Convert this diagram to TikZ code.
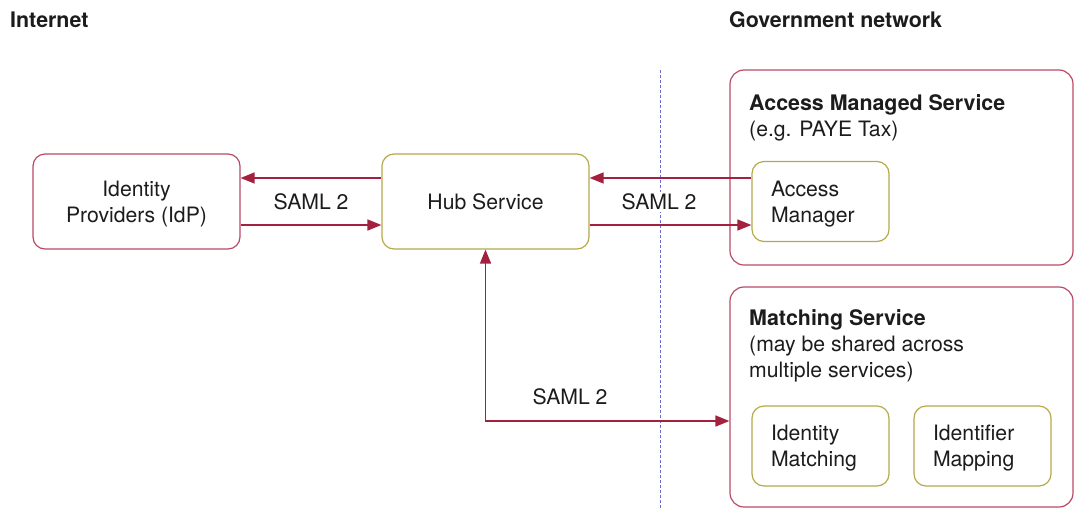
\documentclass[tikz,border=0pt]{standalone}
\usepackage{fontspec}
\setmainfont{TeX Gyre Heros}
\usetikzlibrary{arrows.meta}
\definecolor{crim}{HTML}{B84A66}
\definecolor{olive}{HTML}{B5A94A}
\definecolor{arrowred}{HTML}{A3213F}
\definecolor{ink}{HTML}{1C1C1C}
\definecolor{divider}{HTML}{6A6ACC}
\newcommand{\headfont}{\fontsize{21.4}{26}\selectfont\bfseries}
\tikzset{
  bodytext/.style={font=\fontsize{21.2}{26}\selectfont, text=ink},
  headtext/.style={font=\headfont, text=ink},
  mainbox/.style={draw, line width=1.2pt, rounded corners=12pt, fill=white,
    minimum width=207pt, minimum height=95pt, align=center, text depth=0pt,
    bodytext},
  subbox/.style={draw=olive, line width=1.2pt, rounded corners=12pt, fill=white,
    text width=99pt, inner xsep=19pt, minimum height=80pt, align=left,
    text depth=26pt, bodytext},
  groupbox/.style={draw=crim, line width=1.2pt, rounded corners=14pt,
    minimum width=343pt},
  flow/.style={draw=arrowred, line width=1.5pt,
    -{Triangle[length=14pt,width=11pt]}},
  biflow/.style={draw=arrowred, line width=1.5pt,
    {Triangle[length=14pt,width=11pt]}-{Triangle[length=14pt,width=11pt]}},
  tag/.style={bodytext, fill=white, inner sep=2pt},
}
\begin{document}
\begin{tikzpicture}[x=1pt,y=-1pt]
\useasboundingbox (0,0) rectangle (1078,509);

% zone headings
\node[headtext, anchor=base west, inner sep=0] (inet) at (10,27) {Internet};
\node[headtext, anchor=base west, inner sep=0] (gov) at (729,27) {Government network};

% boundary between the internet and the government network
\coordinate (bTop) at (660,70);
\coordinate (bBot) at (660,509);
\draw[divider, line width=0.9pt, dash pattern=on 3pt off 2pt] (bTop) -- (bBot);

% service groups on the government side
\node[groupbox, minimum height=195pt] (ams) at (901.5,167.5) {};
\node[groupbox, minimum height=220pt] (ms) at (901.5,397) {};
\node[anchor=north west, inner sep=0, align=left, bodytext] (amsT) at (749,94)
  {{\headfont Access Managed Service}\\(e.g. PAYE Tax)};
\node[anchor=north west, inner sep=0, align=left, bodytext] (msT) at (749,309.5)
  {{\headfont Matching Service}\\(may be shared across\\multiple services)};

% main components
\node[mainbox, draw=crim] (idp) at (136.5,201.5) {Identity\\Providers (IdP)};
\node[mainbox, draw=olive] (hub) at (485.5,201.5) {Hub Service};
\node[subbox] (am) at (820.5,201.5) {Access\\Manager};
\node[subbox] (im) at (820.5,446) {Identity\\Matching};
\node[subbox] (idm) at (982.5,446) {Identifier\\Mapping};

% SAML 2 message flows
\draw[flow] ([yshift=23.5pt]hub.west) -- ([yshift=23.5pt]idp.east);
\draw[flow] ([yshift=-23.5pt]idp.east) -- ([yshift=-23.5pt]hub.west);
\node[tag] (s1) at (311,202) {SAML 2};

\draw[flow] ([yshift=23.5pt]am.west) -- ([yshift=23.5pt]hub.east);
\draw[flow] ([yshift=-23.5pt]hub.east) -- ([yshift=-23.5pt]am.west);
\node[tag] (s2) at (659,202) {SAML 2};

\draw[biflow] (hub.south) |- ([yshift=-24pt]ms.west);
\node[tag] (s3) at (570,396.5) {SAML 2};
\end{tikzpicture}
\end{document}
